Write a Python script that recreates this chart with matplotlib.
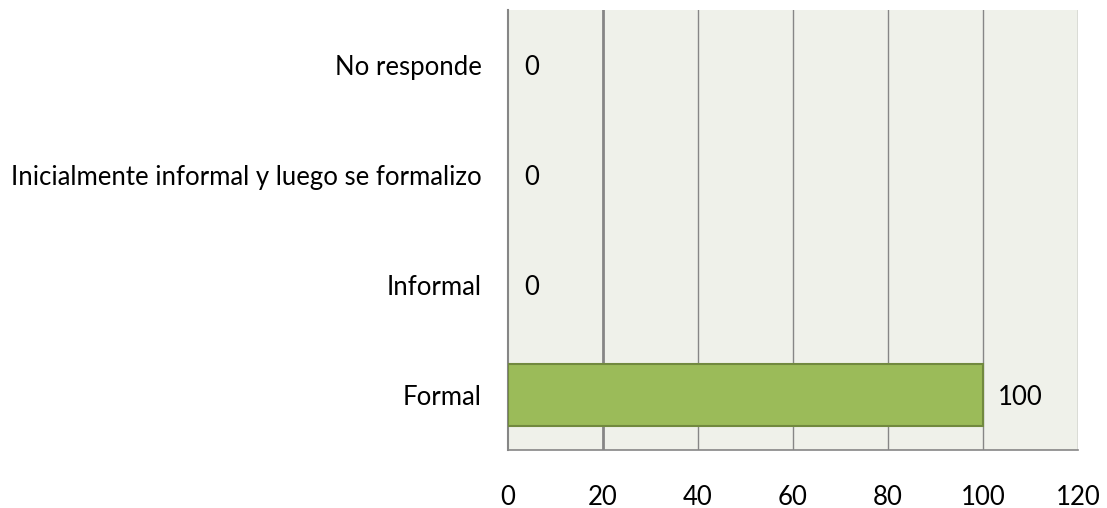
import matplotlib
matplotlib.use("Agg")
import matplotlib.pyplot as plt

categories = ["Formal", "Informal", "Inicialmente informal y luego se formalizo", "No responde"]
values = [100, 0, 0, 0]
xticks = [0, 20, 40, 60, 80, 100, 120]

plt.rcParams['font.family'] = ['Lato', 'DejaVu Sans']
FS = 18.5

fig = plt.figure(figsize=(11.07, 5.08), dpi=100)
ax = fig.add_axes([508/1107, 1-450/508, 570/1107, 440/508])
ax.set_facecolor("#EFF1EA")

y = list(range(len(categories)))
edge_w = [1.5 if v > 0 else 0 for v in values]
bars = ax.barh(y, values, height=0.56, color="#9BBB59", edgecolor="#71893F", zorder=3)
for b, w in zip(bars, edge_w):
    b.set_linewidth(w)
for yi, v in zip(y, values):
    ax.annotate(str(v), xy=(v, yi), xytext=(15 if v > 0 else 16, 0), textcoords="offset pixels",
                ha="left", va="center_baseline", fontsize=FS, color="black", zorder=4)

ax.set_xlim(0, 120)
ax.set_ylim(-0.5, 3.5)
ax.set_yticks(y)
ax.set_yticklabels(categories, fontsize=FS)
ax.set_xticks(xticks)
ax.set_xticklabels([str(t) for t in xticks], fontsize=FS)
ax.tick_params(axis="both", length=0)
ax.tick_params(axis="x", pad=25)
ax.tick_params(axis="y", pad=19)

for xv in xticks[1:]:
    lw = 2.0 if xv == 20 else 1.0
    ax.axvline(xv, color="#868686", linewidth=lw, zorder=1)

for s in ["top", "right"]:
    ax.spines[s].set_visible(False)
ax.spines["left"].set_color("#868686")
ax.spines["left"].set_linewidth(1.5)
ax.spines["bottom"].set_color("#868686")
ax.spines["bottom"].set_linewidth(1.2)

fig.savefig("out.png", dpi=100)
